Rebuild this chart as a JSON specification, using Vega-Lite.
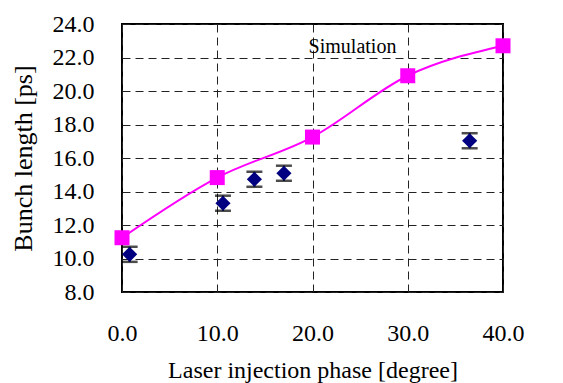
{
  "$schema": "https://vega.github.io/schema/vega-lite/v6.json",
  "autosize": "none",
  "width": 381,
  "height": 268,
  "padding": {"left": 122, "top": 24, "right": 60, "bottom": 91},
  "background": "white",
  "config": {
    "font": "Liberation Serif",
    "view": {"stroke": "black", "strokeWidth": 2},
    "axis": {
      "labelFont": "Liberation Serif",
      "titleFont": "Liberation Serif",
      "labelFontSize": 24,
      "titleFontSize": 24,
      "titleFontWeight": "normal",
      "labelColor": "black",
      "titleColor": "black",
      "domain": false,
      "ticks": false,
      "grid": true,
      "gridColor": "#222222",
      "gridDash": [8, 5],
      "gridWidth": 1,
      "labelOverlap": false,
      "labelFlush": false
    },
    "axisY": {"titleFontSize": 26}
  },
  "datasets": {
    "meas": [
      {"phase": 0.8, "len": 10.25, "lo": 9.8, "hi": 10.7},
      {"phase": 10.6, "len": 13.3, "lo": 12.85, "hi": 13.75},
      {"phase": 13.9, "len": 14.73, "lo": 14.28, "hi": 15.18},
      {"phase": 17.0, "len": 15.09, "lo": 14.64, "hi": 15.54},
      {"phase": 36.5, "len": 17.03, "lo": 16.58, "hi": 17.48}
    ],
    "sim": [
      {"phase": 0, "len": 11.24},
      {"phase": 10, "len": 14.83},
      {"phase": 20, "len": 17.25},
      {"phase": 30, "len": 20.91},
      {"phase": 40, "len": 22.7}
    ],
    "label": [
      {"phase": 24.2, "len": 22.65, "text": "Simulation"}
    ]
  },
  "layer": [
    {
      "data": {"name": "sim"},
      "mark": {"type": "line", "color": "#FF00FF", "strokeWidth": 2, "interpolate": "monotone"},
      "encoding": {
        "x": {
          "field": "phase", "type": "quantitative",
          "scale": {"domain": [0, 40], "nice": false},
          "axis": {"values": [0, 10, 20, 30, 40], "format": ".1f", "labelPadding": 29, "titlePadding": 13},
          "title": "Laser injection phase [degree]"
        },
        "y": {
          "field": "len", "type": "quantitative",
          "scale": {"domain": [8, 24], "nice": false, "zero": false},
          "axis": {"values": [8, 10, 12, 14, 16, 18, 20, 22, 24], "format": ".1f", "labelPadding": 28, "titlePadding": 16},
          "title": "Bunch length [ps]"
        }
      }
    },
    {
      "data": {"name": "meas"},
      "mark": {"type": "rule", "color": "black", "strokeWidth": 2},
      "encoding": {
        "x": {"field": "phase", "type": "quantitative", "axis": {"values": [0, 10, 20, 30, 40], "format": ".1f", "labelPadding": 29, "titlePadding": 13}, "title": "Laser injection phase [degree]"},
        "y": {"field": "lo", "type": "quantitative", "axis": {"values": [8, 10, 12, 14, 16, 18, 20, 22, 24], "format": ".1f", "labelPadding": 28, "titlePadding": 16}, "title": "Bunch length [ps]"},
        "y2": {"field": "hi"}
      }
    },
    {
      "data": {"name": "meas"},
      "mark": {"type": "tick", "color": "black", "orient": "horizontal", "size": 16, "thickness": 2.5},
      "encoding": {
        "x": {"field": "phase", "type": "quantitative", "axis": {"values": [0, 10, 20, 30, 40], "format": ".1f", "labelPadding": 29, "titlePadding": 13}, "title": "Laser injection phase [degree]"},
        "y": {"field": "lo", "type": "quantitative", "axis": {"values": [8, 10, 12, 14, 16, 18, 20, 22, 24], "format": ".1f", "labelPadding": 28, "titlePadding": 16}, "title": "Bunch length [ps]"}
      }
    },
    {
      "data": {"name": "meas"},
      "mark": {"type": "tick", "color": "black", "orient": "horizontal", "size": 16, "thickness": 2.5},
      "encoding": {
        "x": {"field": "phase", "type": "quantitative", "axis": {"values": [0, 10, 20, 30, 40], "format": ".1f", "labelPadding": 29, "titlePadding": 13}, "title": "Laser injection phase [degree]"},
        "y": {"field": "hi", "type": "quantitative", "axis": {"values": [8, 10, 12, 14, 16, 18, 20, 22, 24], "format": ".1f", "labelPadding": 28, "titlePadding": 16}, "title": "Bunch length [ps]"}
      }
    },
    {
      "data": {"name": "meas"},
      "mark": {"type": "point", "shape": "diamond", "filled": true, "color": "#000080", "size": 230, "opacity": 1},
      "encoding": {
        "x": {"field": "phase", "type": "quantitative", "axis": {"values": [0, 10, 20, 30, 40], "format": ".1f", "labelPadding": 29, "titlePadding": 13}, "title": "Laser injection phase [degree]"},
        "y": {"field": "len", "type": "quantitative", "axis": {"values": [8, 10, 12, 14, 16, 18, 20, 22, 24], "format": ".1f", "labelPadding": 28, "titlePadding": 16}, "title": "Bunch length [ps]"}
      }
    },
    {
      "data": {"name": "sim"},
      "mark": {"type": "point", "shape": "square", "filled": true, "color": "#FF00FF", "size": 225, "opacity": 1},
      "encoding": {
        "x": {"field": "phase", "type": "quantitative", "axis": {"values": [0, 10, 20, 30, 40], "format": ".1f", "labelPadding": 29, "titlePadding": 13}, "title": "Laser injection phase [degree]"},
        "y": {"field": "len", "type": "quantitative", "axis": {"values": [8, 10, 12, 14, 16, 18, 20, 22, 24], "format": ".1f", "labelPadding": 28, "titlePadding": 16}, "title": "Bunch length [ps]"}
      }
    },
    {
      "data": {"name": "label"},
      "mark": {"type": "text", "fontSize": 20, "color": "black", "font": "Liberation Serif"},
      "encoding": {
        "x": {"field": "phase", "type": "quantitative", "axis": {"values": [0, 10, 20, 30, 40], "format": ".1f", "labelPadding": 29, "titlePadding": 13}, "title": "Laser injection phase [degree]"},
        "y": {"field": "len", "type": "quantitative", "axis": {"values": [8, 10, 12, 14, 16, 18, 20, 22, 24], "format": ".1f", "labelPadding": 28, "titlePadding": 16}, "title": "Bunch length [ps]"},
        "text": {"field": "text"}
      }
    }
  ]
}
